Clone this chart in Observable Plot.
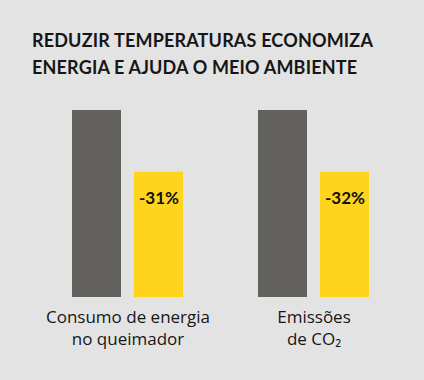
<!DOCTYPE html>
<html>
<head>
<meta charset="utf-8">
<script src="https://cdn.jsdelivr.net/npm/d3@7"></script>
<script src="https://cdn.jsdelivr.net/npm/@observablehq/plot@0.6"></script>
<style>
  html, body { margin: 0; padding: 0; background: #e3e3e3; }
  #wrap { position: relative; width: 424px; height: 380px; background: #e3e3e3; overflow: hidden; }
  #title { position: absolute; left: 32px; top: 27px; margin: 0; font-family: Lato, sans-serif; font-weight: 700; font-size: 18px; letter-spacing: 0.17px; line-height: 27px; color: #161616; white-space: nowrap; }
  #chart { position: absolute; left: 0; top: 90px; }
</style>
</head>
<body>
<div id="wrap">
  <div id="title">REDUZIR TEMPERATURAS ECONOMIZA<br>ENERGIA E AJUDA O MEIO AMBIENTE</div>
  <div id="chart"></div>
</div>
<script>
const groups = ["Consumo de energia\nno queimador", "Emissões\nde CO₂"];
const series = ["Antes", "Depois"];
const before = [100, 100];
const after = [67, 67];
const changeLabels = ["-31%", "-32%"];

const data = [];
groups.forEach((g, i) => {
  data.push({group: g, series: series[0], value: before[i], label: ""});
  data.push({group: g, series: series[1], value: after[i], label: changeLabels[i]});
});

const chart = Plot.plot({
  width: 424,
  height: 290,
  marginLeft: 71,
  marginRight: 54,
  marginTop: 20,
  marginBottom: 83,
  style: {background: "transparent", fontFamily: "Lato, sans-serif"},
  fx: {domain: groups, paddingInner: 0.3925, paddingOuter: 0, axis: null},
  x: {domain: series, paddingInner: 0.206, paddingOuter: 0, axis: null},
  y: {domain: [0, 100], axis: null},
  color: {domain: series, range: ["#63615e", "#ffd41c"]},
  marks: [
    Plot.barY(data, {fx: "group", x: "series", y: "value", fill: "series"}),
    Plot.text(data.filter(d => d.label), {
      fx: "group", x: "series", y: "value", text: "label",
      dy: 26, fontSize: 17, fontWeight: 700, fill: "#111"
    }),
    Plot.text(groups, {
      fx: d => d, text: d => d, frameAnchor: "bottom", lineAnchor: "top",
      dy: 10, lineHeight: 1.3, fontSize: 17, fill: "#161616",
      fontFamily: "'Open Sans', sans-serif"
    })
  ]
});
document.getElementById("chart").appendChild(chart);
</script>
</body>
</html>
